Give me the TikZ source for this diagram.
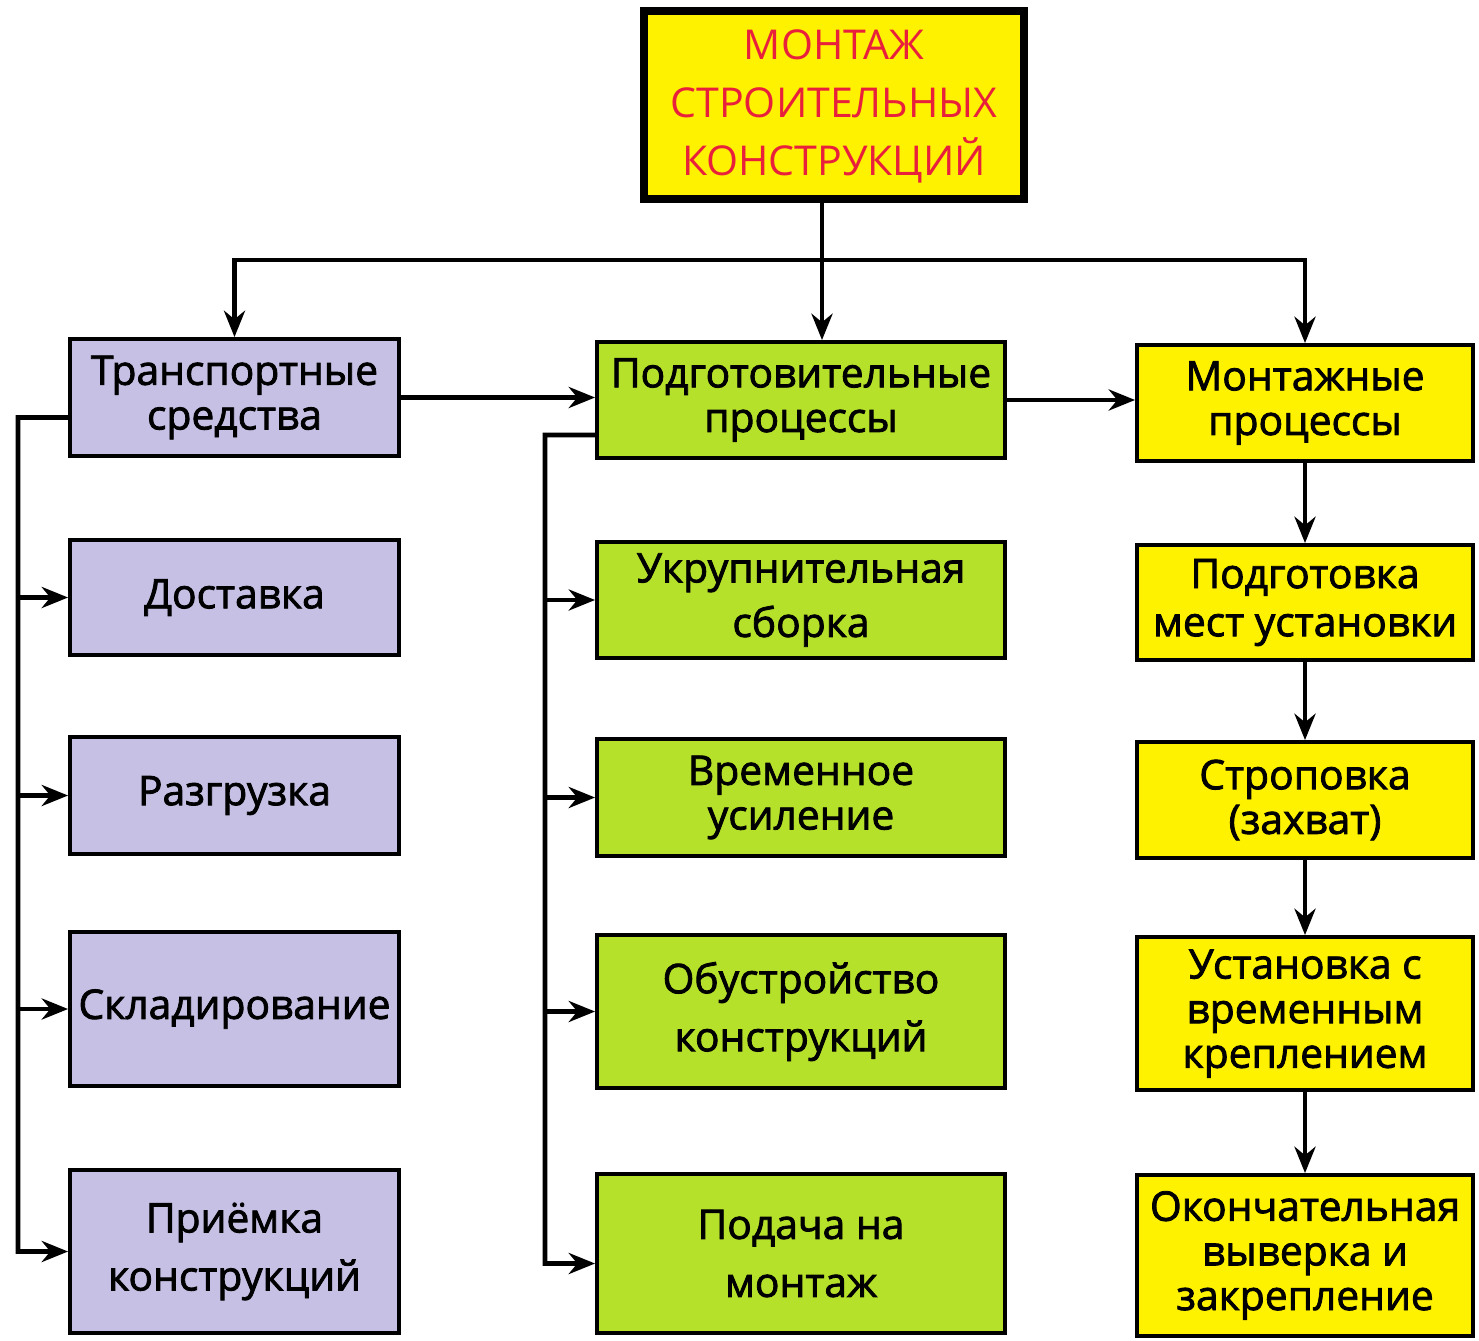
\documentclass[tikz,border=0pt]{standalone}
\usepackage{fontspec}
\setmainfont{Open Sans}
\newfontfamily\boxfont[FakeBold=2]{Open Sans}
\usetikzlibrary{arrows.meta}
\definecolor{lilac}{RGB}{198,192,228}
\definecolor{salat}{RGB}{181,225,43}
\definecolor{zhelt}{RGB}{255,242,0}
\definecolor{krasn}{RGB}{232,32,60}

\begin{document}
\begin{tikzpicture}[
    box/.style={draw, line width=1.1pt, align=center, inner sep=2pt,
        font=\boxfont\fontsize{11.6}{12.7}\selectfont},
    trbox/.style={box, fill=lilac, minimum width=3.29cm},
    prbox/.style={box, fill=salat, minimum width=4.08cm},
    mnbox/.style={box, fill=zhelt, minimum width=3.36cm},
    line/.style={line width=1.3pt},
    arr/.style={line, -{Stealth[length=7.5pt, width=6pt]}}
]
\useasboundingbox (0,0) rectangle (14.79,-13.40);

% Заголовок
\node[draw, line width=2.3pt, fill=zhelt, text=krasn, align=center,
    minimum width=3.80cm, minimum height=1.88cm,
    font=\fontsize{11.7}{16.5}\selectfont] (title) at (8.34,-1.05)
    {\rule{0pt}{1.5ex}МОНТАЖ\\СТРОИТЕЛЬНЫХ\\КОНСТРУКЦИЙ};

% Транспортные средства
\node[trbox, minimum height=1.17cm] (trans) at (2.345,-3.975) {Транспортные\\средства};
\node[trbox, minimum height=1.15cm] (dost) at (2.345,-5.975) {Доставка};
\node[trbox, minimum height=1.17cm] (razg) at (2.345,-7.955) {Разгрузка};
\node[trbox, minimum height=1.54cm] (sklad) at (2.345,-10.09) {Складирование};
\node[trbox, minimum height=1.63cm] (priem) at (2.345,-12.515) {Приёмка\\[3.8pt]конструкций};

% Подготовительные процессы
\node[prbox, minimum height=1.16cm] (podg) at (8.01,-4.00) {Подготовительные\\процессы};
\node[prbox, minimum height=1.16cm] (ukr) at (8.01,-6.00) {Укрупнительная\\[2.8pt]сборка};
\node[prbox, minimum height=1.17cm] (vrem) at (8.01,-7.975) {Временное\\усиление};
\node[prbox, minimum height=1.53cm] (obus) at (8.01,-10.115) {Обустройство\\[3.8pt]конструкций};
\node[prbox, minimum height=1.59cm] (podach) at (8.01,-12.535) {Подача на\\[3.8pt]монтаж};

% Монтажные процессы
\node[mnbox, minimum height=1.16cm] (mont) at (13.05,-4.03) {Монтажные\\процессы};
\node[mnbox, minimum height=1.15cm] (mpodg) at (13.05,-6.025) {Подготовка\\[1pt]мест установки};
\node[mnbox, minimum height=1.16cm] (strop) at (13.05,-8.00) {Строповка\\(захват)};
\node[mnbox, minimum height=1.53cm] (ustan) at (13.05,-10.135) {Установка с\\временным\\креплением};
\node[mnbox, minimum height=1.61cm] (okon) at (13.05,-12.555) {Окончательная\\выверка и\\закрепление};

% Связи от заголовка
\coordinate (bus) at (8.22,-2.60);
\draw[line] (bus |- title.south) -- (bus);
\draw[arr] (bus) -| (trans.north);
\draw[arr] (bus) -- (bus |- podg.north);
\draw[arr] (bus) -| (mont.north);

% Левая ветвь
\coordinate (sl) at (0.18,-4.175);
\draw[arr] ([yshift=-2mm]trans.west) -- (sl) |- (priem.west);
\foreach \n in {dost,razg,sklad}
    \draw[arr] (sl |- \n.west) -- (\n.west);

% Средняя ветвь
\coordinate (sm) at (5.45,-4.35);
\draw[arr] ([yshift=-3.5mm]podg.west) -- (sm) |- ([yshift=-1mm]podach.west);
\foreach \n in {ukr,vrem,obus}
    \draw[arr] (sm |- \n.west) -- (\n.west);

% Переходы между колонками
\draw[arr] (trans.east) -- (trans.east -| podg.west);
\draw[arr] (podg.east) -- (podg.east -| mont.west);

% Правая цепочка
\draw[arr] (mont.south) -- (mpodg.north);
\draw[arr] (mpodg.south) -- (strop.north);
\draw[arr] (strop.south) -- (ustan.north);
\draw[arr] (ustan.south) -- (okon.north);
\end{tikzpicture}
\end{document}
